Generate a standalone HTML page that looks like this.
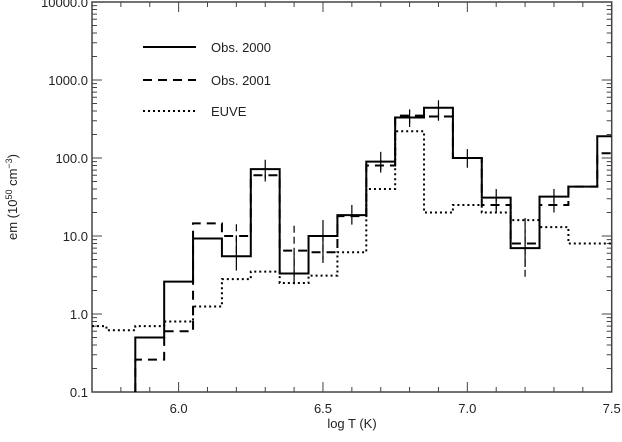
<!DOCTYPE html>
<html><head><meta charset="utf-8"><style>
body{margin:0;background:#fff}
svg text{font-family:"Liberation Sans",sans-serif;fill:#222}
</style></head><body>
<svg id="chart" width="622" height="437" xmlns="http://www.w3.org/2000/svg">
<g id="axes"></g><g id="series"></g>
<g>
<line x1="143" y1="47" x2="196" y2="47" stroke="#000" stroke-width="2"/>
<text x="211" y="52" font-size="13">Obs. 2000</text>
<line x1="143" y1="80" x2="196" y2="80" stroke="#000" stroke-width="2" stroke-dasharray="9,6"/>
<text x="211" y="85" font-size="13">Obs. 2001</text>
<line x1="143" y1="111" x2="196" y2="111" stroke="#000" stroke-width="2" stroke-dasharray="2,3"/>
<text x="211" y="116" font-size="13">EUVE</text>
</g>
<text x="352" y="428" font-size="13" text-anchor="middle">log T (K)</text>
<text transform="translate(17,197) rotate(-90)" font-size="13" text-anchor="middle">em (10<tspan dy="-5" font-size="9">50</tspan><tspan dy="5"> cm</tspan><tspan dy="-5" font-size="9">−3</tspan><tspan dy="5">)</tspan></text>
</svg>
<script>
const binCenters=[5.7,5.8,5.9,6.0,6.1,6.2,6.3,6.4,6.5,6.6,6.7,6.8,6.9,7.0,7.1,7.2,7.3,7.4,7.5];
const obs2000=[null,null,0.5,2.6,9.3,5.5,72,3.3,10,18.5,90,330,440,100,31,7,32,43,190];
const obs2001=[null,null,0.26,0.6,14.5,10,60,6.5,6.2,18,80,350,340,100,25,8,25,43,115];
const euve=[0.7,0.62,0.7,0.8,1.25,2.8,3.5,2.5,3.1,6.2,40,220,20,25,20,16,13,8,8];
const err2000Lo=[null,null,null,null,null,3.6,55,2.4,5,14,70,250,330,75,22,4,25,null,null];
const err2000Hi=[null,null,null,null,null,10,95,6,16,25,120,400,550,130,40,17,40,null,null];
const err2001Lo=[null,null,null,null,null,6,50,3,4.5,null,65,280,300,null,20,3,20,null,null];
const err2001Hi=[null,null,null,null,null,15,75,15,10,null,95,420,420,null,30,12,30,null,null];
const xTicks=["6.0","6.5","7.0","7.5"];
const yTicks=["0.1","1.0","10.0","100.0","1000.0","10000.0"];
const L=92,R=611.7,T=2,B=392,xmin=5.7,xmax=7.5;
const X=v=>L+(v-xmin)/(xmax-xmin)*(R-L);
const Y=v=>B-(Math.log10(v)+1)*(B-T)/5;
const ns="http://www.w3.org/2000/svg";
const ax=document.getElementById('axes'),sg=document.getElementById('series');
function mk(p,tag,a){const e=document.createElementNS(ns,tag);for(const k in a)e.setAttribute(k,a[k]);p.appendChild(e);return e;}
const fr=mk(ax,'rect',{x:L,y:T,width:R-L,height:B-T,fill:'none',stroke:'#444','stroke-width':1.5});


for(let i=0;i<=18;i++){const v=xmin+i*0.1,x=X(v),maj=Math.abs(v*2-Math.round(v*2))<1e-6,len=maj?10:5;
const t=mk(ax,'path',{d:`M${x},${B}v${-len}M${x},${T}v${len}`,stroke:'#444','stroke-width':1});

}
xTicks.forEach(s=>{const t=mk(ax,'text',{x:X(+s),y:413,'font-size':13,'text-anchor':'middle'});t.textContent=s;

});
yTicks.forEach((s,i)=>{const v=+s,y=Y(v);
const t=mk(ax,'text',{x:88,y:y+5,'font-size':13,'text-anchor':'end'});t.textContent=s;


const m=mk(ax,'path',{d:`M${L},${y}h10M${R},${y}h-10`,stroke:'#444'});


if(i<5)for(let k=2;k<10;k++){const yy=Y(v*k);const n=mk(ax,'path',{d:`M${L},${yy}h5M${R},${yy}h-5`,stroke:'#444'});

}});
function step(arr,dash,name){let d='',started=false;
arr.forEach((v,i)=>{if(v==null)return;const x0=X(Math.max(xmin,binCenters[i]-0.05)),x1=X(Math.min(xmax,binCenters[i]+0.05)),y=Y(v);
if(!started){d+=(name!=='euve'?`M${x0},${B}L${x0},${y}`:`M${x0},${y}`);started=true;}else d+=`L${x0},${y}`;d+=`L${x1},${y}`;});
const p=mk(sg,'path',{d,fill:'none',stroke:'#000','stroke-width':2,'stroke-dasharray':dash});

}
function errs(lo,hi,dash,name){lo.forEach((l,i)=>{if(l==null)return;const x=X(binCenters[i]);
const e=mk(sg,'path',{d:`M${x},${Y(l)}V${Y(hi[i])}`,stroke:'#000','stroke-width':1.2,'stroke-dasharray':dash});

});}
step(euve,'2,3','euve');
step(obs2001,'9,6','obs-2001');
step(obs2000,'none','obs-2000');
errs(err2001Lo,err2001Hi,'7,4','obs-2001');
errs(err2000Lo,err2000Hi,'none','obs-2000');
</script>
</body></html>
